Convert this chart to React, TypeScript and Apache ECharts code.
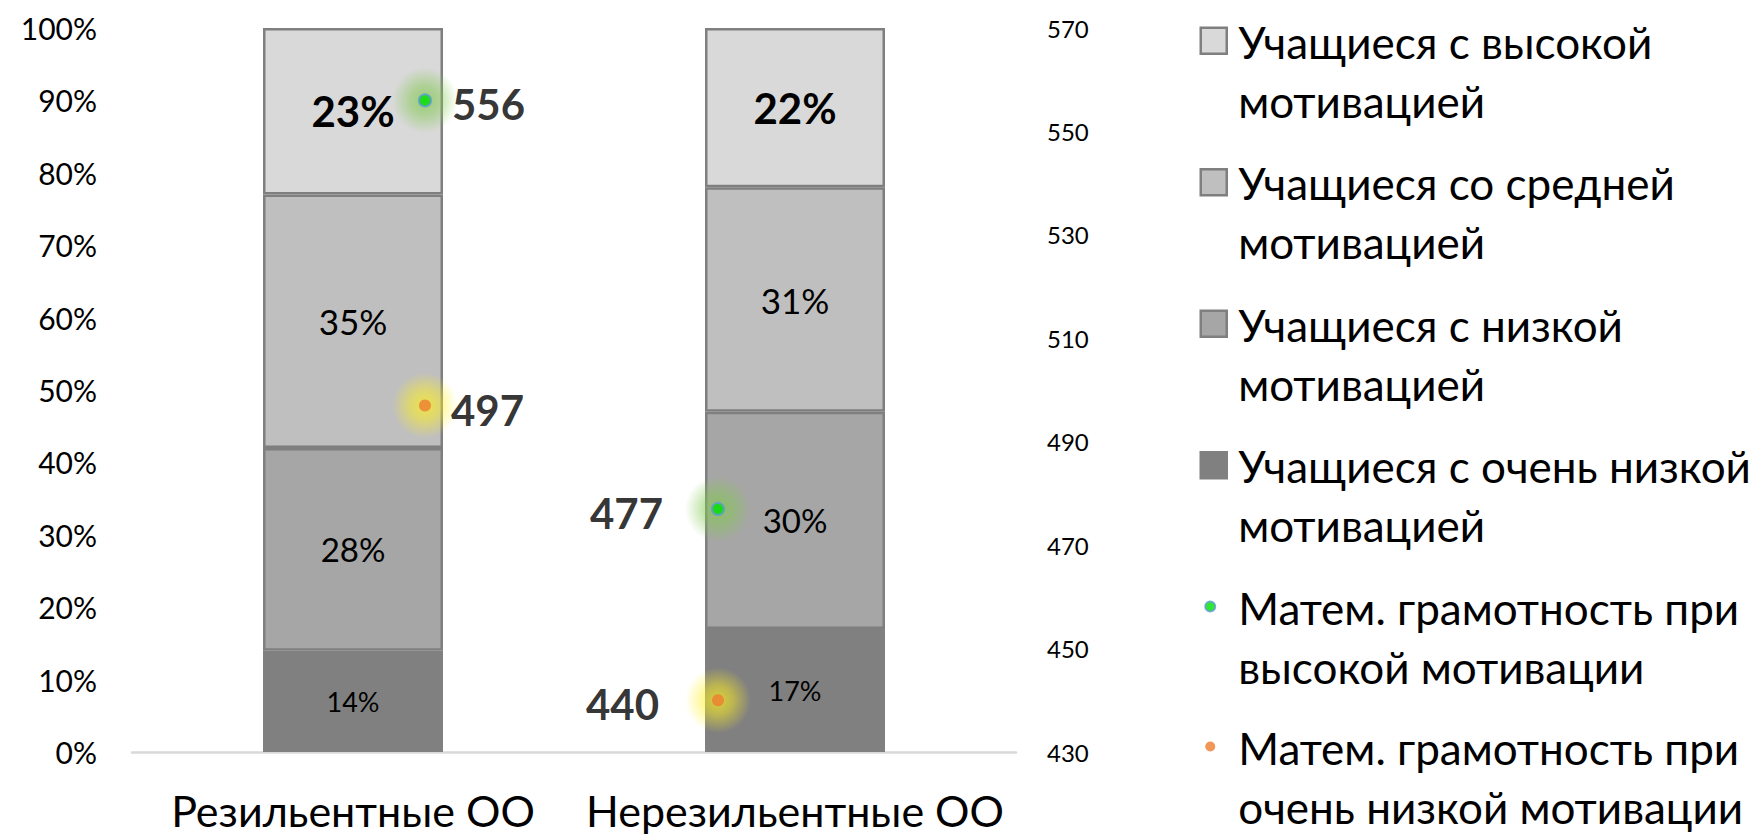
import React, { useEffect, useRef } from "react";
import * as echarts from "echarts";

// ---- data ----
const categories = ["Резильентные ОО", "Нерезильентные ОО"];
const highMotivation = [23, 22];
const midMotivation = [35, 31];
const lowMotivation = [28, 30];
const veryLowMotivation = [14, 17];
const mathHighMotivation = [556, 477];
const mathVeryLowMotivation = [497, 440];

const seriesNames = [
  "Учащиеся с высокой мотивацией",
  "Учащиеся со средней мотивацией",
  "Учащиеся с низкой мотивацией",
  "Учащиеся с очень низкой мотивацией",
  "Матем. грамотность при высокой мотивации",
  "Матем. грамотность при очень низкой мотивации",
];
const legendWrapped: Record<string, string> = {
  "Учащиеся с высокой мотивацией": "Учащиеся с высокой\nмотивацией",
  "Учащиеся со средней мотивацией": "Учащиеся со средней\nмотивацией",
  "Учащиеся с низкой мотивацией": "Учащиеся с низкой\nмотивацией",
  "Учащиеся с очень низкой мотивацией": "Учащиеся с очень низкой\nмотивацией",
  "Матем. грамотность при высокой мотивации": "Матем. грамотность при\nвысокой мотивации",
  "Матем. грамотность при очень низкой мотивации": "Матем. грамотность при\nочень низкой мотивации",
};

// ---- styles ----
const FONT = "Lato, 'Open Sans', 'Noto Sans', sans-serif";
const colHigh = "#d9d9d9";
const colMid = "#bfbfbf";
const colLow = "#a6a6a6";
const colVeryLow = "#808080";
const barBorder = "#7f7f7f";
const dotGreen = "#00e000";
const dotGreenBorder = "#5b9bd5";
const dotOrange = "#ed7d31";
// horizontal offsets of the dots relative to bar centers (px)
const dotOffsets = [72, -77];
const dotLabelSide = ["right", "left"];
const dotLabelDistance = [[20, 20], [48, 53]];

const squareIcon = "path://M0,0 M29,120 M1.5,16.5h26v26h-26z";
const circleIcon = "path://M0,0 M29,120 M6,29.5a5,5 0 1,0 10,0a5,5 0 1,0 -10,0z";

const glow = (r: number, g: number, b: number) =>
  new echarts.graphic.RadialGradient(0.5, 0.5, 0.5, [
    { offset: 0, color: `rgba(${r},${g},${b},0.9)` },
    { offset: 0.45, color: `rgba(${r},${g},${b},0.6)` },
    { offset: 1, color: `rgba(${r},${g},${b},0)` },
  ]);

export default function App() {
  const ref = useRef<HTMLDivElement>(null);

  useEffect(() => {
    document.body.style.margin = "0";
    if (!ref.current) return;
    const chart = echarts.init(ref.current, undefined, { renderer: "svg" });

    const barLabel = (fontSize: number, bold = false) => ({
      show: true,
      position: "inside",
      formatter: "{c}%",
      fontFamily: FONT,
      fontSize,
      fontWeight: bold ? "bold" : "normal",
      color: "#000",
    });

    const dotData = (values: number[], distIdx: number) =>
      values.map((v, i) => ({
        value: v,
        symbolOffset: [dotOffsets[i], 0],
        label: {
          position: dotLabelSide[i],
          distance: dotLabelDistance[i][distIdx],
        },
      }));

    const glowData = (values: number[]) =>
      values.map((v, i) => ({ value: v, symbolOffset: [dotOffsets[i], 0] }));

    const dotLabel = {
      show: true,
      formatter: (p: any) => String(p.value),
      fontFamily: FONT,
      fontSize: 42,
      fontWeight: "bold",
      color: "#000",
      offset: [0, 4],
    };

    const option: any = {
      animation: false,
      backgroundColor: "#ffffff",
      textStyle: { fontFamily: FONT },
      grid: { left: 132, top: 28, width: 884, height: 724 },
      legend: {
        orient: "vertical",
        left: 1198,
        top: 10,
        height: 900,
        padding: 0,
        itemWidth: 29,
        itemHeight: 120,
        itemGap: 19,
        selectedMode: false,
        textStyle: {
          fontFamily: FONT,
          fontSize: 44,
          lineHeight: 59,
          color: "#000",
          padding: [0, 0, 0, 5],
        },
        formatter: (name: string) => legendWrapped[name] || name,
        data: [
          { name: seriesNames[0], icon: squareIcon, itemStyle: { color: colHigh, borderColor: barBorder, borderWidth: 2.5 } },
          { name: seriesNames[1], icon: squareIcon, itemStyle: { color: colMid, borderColor: barBorder, borderWidth: 2.5 } },
          { name: seriesNames[2], icon: squareIcon, itemStyle: { color: colLow, borderColor: barBorder, borderWidth: 2.5 } },
          { name: seriesNames[3], icon: squareIcon, itemStyle: { color: colVeryLow, borderColor: colVeryLow, borderWidth: 2.5 } },
          { name: seriesNames[4], icon: circleIcon, itemStyle: { color: dotGreen, borderColor: dotGreenBorder, borderWidth: 2 } },
          { name: seriesNames[5], icon: circleIcon, itemStyle: { color: dotOrange, borderColor: dotOrange, borderWidth: 0 } },
        ],
      },
      xAxis: {
        type: "category",
        data: categories,
        axisTick: { show: false },
        axisLine: { lineStyle: { color: "#d9d9d9", width: 2.5 } },
        axisLabel: { interval: 0, fontFamily: FONT, fontSize: 43, color: "#000", margin: 37 },
        splitLine: { show: false },
      },
      yAxis: [
        {
          type: "value",
          min: 0,
          max: 100,
          interval: 10,
          axisLine: { show: false },
          axisTick: { show: false },
          splitLine: { show: false },
          axisLabel: { formatter: "{value}%", fontFamily: FONT, fontSize: 30, color: "#000", margin: 35 },
        },
        {
          type: "value",
          min: 430,
          max: 570,
          interval: 20,
          position: "right",
          axisLine: { show: false },
          axisTick: { show: false },
          splitLine: { show: false },
          axisLabel: { fontFamily: FONT, fontSize: 24, color: "#000", margin: 31 },
        },
      ],
      series: [
        {
          name: seriesNames[3],
          type: "bar",
          stack: "total",
          barWidth: 180,
          data: veryLowMotivation,
          itemStyle: { color: colVeryLow, borderColor: colVeryLow, borderWidth: 0 },
          label: barLabel(27),
        },
        {
          name: seriesNames[2],
          type: "bar",
          stack: "total",
          barWidth: 180,
          data: lowMotivation,
          itemStyle: { color: colLow, borderColor: barBorder, borderWidth: 2.5 },
          label: barLabel(33),
        },
        {
          name: seriesNames[1],
          type: "bar",
          stack: "total",
          barWidth: 180,
          data: midMotivation,
          itemStyle: { color: colMid, borderColor: barBorder, borderWidth: 2.5 },
          label: barLabel(35),
        },
        {
          name: seriesNames[0],
          type: "bar",
          stack: "total",
          barWidth: 180,
          data: highMotivation,
          itemStyle: { color: colHigh, borderColor: barBorder, borderWidth: 2.5 },
          label: barLabel(42, true),
        },
        {
          name: "glow-high",
          type: "scatter",
          yAxisIndex: 1,
          symbol: "circle",
          symbolSize: 66,
          silent: true,
          z: 4,
          data: glowData(mathHighMotivation),
          itemStyle: { color: glow(130, 200, 80) },
          label: { show: false },
        },
        {
          name: "glow-verylow",
          type: "scatter",
          yAxisIndex: 1,
          symbol: "circle",
          symbolSize: 66,
          silent: true,
          z: 4,
          data: glowData(mathVeryLowMotivation),
          itemStyle: { color: glow(255, 240, 30) },
          label: { show: false },
        },
        {
          name: seriesNames[4],
          type: "scatter",
          yAxisIndex: 1,
          symbol: "circle",
          symbolSize: 12,
          z: 5,
          data: dotData(mathHighMotivation, 0),
          itemStyle: { color: dotGreen, borderColor: dotGreenBorder, borderWidth: 2 },
          label: dotLabel,
        },
        {
          name: seriesNames[5],
          type: "scatter",
          yAxisIndex: 1,
          symbol: "circle",
          symbolSize: 12,
          z: 5,
          data: dotData(mathVeryLowMotivation, 1),
          itemStyle: { color: dotOrange },
          label: dotLabel,
        },
      ],
    };

    chart.setOption(option);
    return () => chart.dispose();
  }, []);

  return <div ref={ref} style={{ width: 1760, height: 835 }} />;
}
